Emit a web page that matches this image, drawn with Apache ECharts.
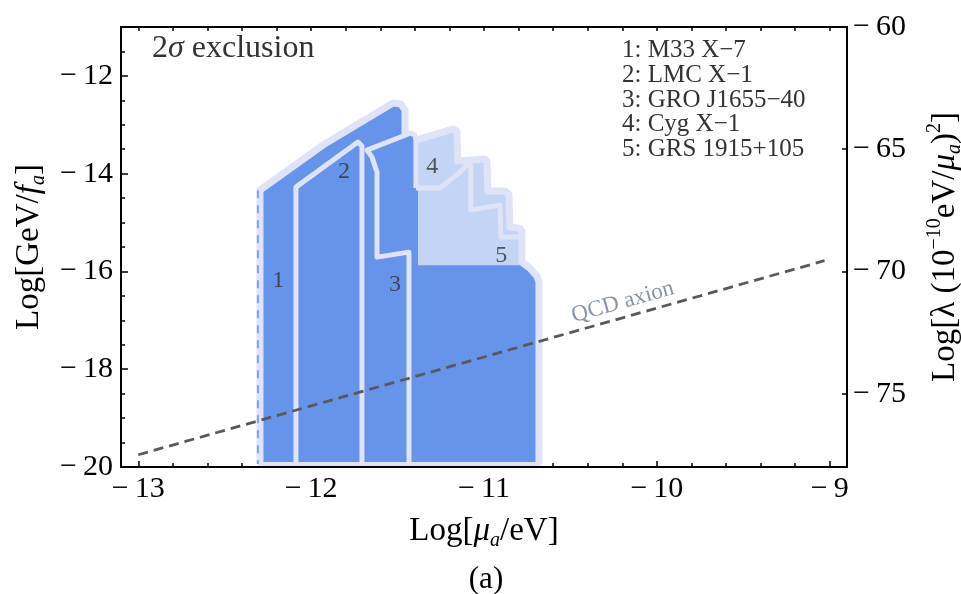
<!DOCTYPE html>
<html>
<head>
<meta charset="utf-8">
<script src="https://cdn.jsdelivr.net/npm/echarts@6/dist/echarts.min.js"></script>
<style>
  html, body { margin: 0; padding: 0; background: #fff; }
  #chart { width: 961px; height: 594px; }
</style>
</head>
<body>
<div id="chart"></div>
<script>
// Black-hole sources and the tag printed inside each excluded region
const sourceTags = ['1', '2', '3', '4', '5'];
const sources = ['M33 X\u22127', 'LMC X\u22121', 'GRO J1655\u221240', 'Cyg X\u22121', 'GRS 1915+105'];
// [log10(mu_a/eV), log10(GeV/f_a)] where each tag sits
const tagPositions = [[-12.19, -16.18], [-11.81, -13.96], [-11.515, -16.28], [-11.30, -13.86], [-10.90, -15.67]];

// Region boundaries, [log10(mu_a/eV), log10(GeV/f_a)]
const m33Edge = [[-12.296, -19.94], [-12.296, -14.336], [-11.932, -13.415], [-11.527, -12.556],
  [-11.481, -12.576], [-11.457, -12.699], [-11.457, -13.21]];
const lmcEdge = [[-12.088, -19.94], [-12.088, -14.275], [-11.729, -13.354], [-11.706, -13.436],
  [-11.706, -19.94]];
const groEdge = [[-11.434, -19.94], [-11.434, -15.605], [-11.619, -15.707], [-11.619, -13.968],
  [-11.648, -13.661], [-11.677, -13.517], [-11.423, -13.169], [-11.400, -13.210],
  [-11.394, -13.313], [-11.394, -14.295]];
const cygEdge = [[-11.394, -13.313], [-11.180, -13.088], [-11.157, -13.129], [-11.151, -13.743],
  [-10.995, -13.702], [-10.983, -13.763], [-10.977, -14.357], [-10.879, -14.357],
  [-10.856, -14.418], [-10.850, -15.093], [-10.792, -15.114], [-10.781, -15.175],
  [-10.781, -15.810], [-10.735, -15.932], [-10.694, -16.096], [-10.682, -16.219], [-10.682, -19.94]];
const grsEdge = [[-11.394, -14.295], [-11.255, -14.295], [-11.139, -13.968], [-11.093, -13.783],
  [-11.076, -13.845], [-11.076, -14.745], [-10.908, -14.643], [-10.902, -15.298], [-10.786, -15.298]];
const baseEdge = [[-12.308, -19.94], [-10.671, -19.94]];
const leftLimit = [[-12.308, -14.34], [-12.308, -19.94]];

// Filled areas
const m33Fill = [[-12.296, -19.94], [-12.296, -14.336], [-11.932, -13.415], [-11.527, -12.556],
  [-11.481, -12.576], [-11.457, -12.699], [-11.457, -19.94]];
const lmcFill = lmcEdge;
const groFill = [[-11.683, -19.94], [-11.683, -13.517], [-11.423, -13.169], [-11.400, -13.210],
  [-11.382, -13.313], [-11.382, -19.94]];
const cygFill = [[-11.394, -19.94]].concat(cygEdge);
const deepFill = [[-11.382, -19.94], [-11.382, -15.871], [-10.781, -15.871], [-10.735, -15.932],
  [-10.694, -16.096], [-10.682, -16.219], [-10.682, -19.94]];

// QCD axion band: f_a * mu_a fixed
const qcdLine = [[-13.0, -19.75], [-9.03, -15.78]];
const qcdLabelAt = [-10.197, -16.628];

// Axis ticks
const xMajorTicks = [-13, -12, -11, -10, -9];
const xMinorTicks = [-12.8, -12.6, -12.4, -12.2, -11.8, -11.6, -11.4, -11.2,
  -10.8, -10.6, -10.4, -10.2, -9.8, -9.6, -9.4, -9.2];
const yMajorTicks = [-20, -18, -16, -14, -12];
const yMinorTicks = [-19.5, -19, -18.5, -17.5, -17, -16.5, -15.5, -15, -14.5,
  -13.5, -13, -12.5, -11.5];
const lambdaTicks = [-75, -70, -65, -60];

const serif = '"Liberation Serif", "Times New Roman", "DejaVu Serif", serif';
const DARK = '#6694EB';
const LIGHT = '#C4D4F5';
const EDGE = '#DEE3F8';

const fmt = v => (v < 0 ? '\u2212\u2009' + Math.abs(v) : String(v));

function fillSeries(points, color, z) {
  return {
    type: 'custom', silent: true, z: z, data: [0],
    renderItem: (params, api) => ({
      type: 'polygon',
      shape: { points: points.map(p => api.coord(p)) },
      style: { fill: color }
    })
  };
}
function edgeSeries(points, width, color, z, dash) {
  return {
    type: 'custom', silent: true, z: z, data: [0],
    renderItem: (params, api) => ({
      type: 'polyline',
      shape: { points: points.map(p => api.coord(p)) },
      style: { stroke: color, lineWidth: width, fill: null, lineJoin: 'round', lineDash: dash || null }
    })
  };
}

const axisLine = { show: true, lineStyle: { color: '#000', width: 2 } };
const tickStyle = { color: '#000', width: 1.5 };
const labelStyle = { fontFamily: serif, fontSize: 30, color: '#000' };
const nameRich = {
  i: { fontFamily: serif, fontSize: 33, fontStyle: 'italic', color: '#000' },
  sub: { fontFamily: serif, fontSize: 20, fontStyle: 'italic', color: '#000', verticalAlign: 'bottom', lineHeight: 22 },
  sup: { fontFamily: serif, fontSize: 20, color: '#000', verticalAlign: 'top', lineHeight: 22 }
};
const nameStyle = { fontFamily: serif, fontSize: 33, color: '#000', lineHeight: 40, rich: nameRich };

const chart = echarts.init(document.getElementById('chart'), null, { renderer: 'canvas' });

chart.setOption({
  animation: false,
  backgroundColor: '#fff',
  grid: { left: 121, right: 114, top: 27, bottom: 127, containLabel: false, outerBoundsMode: 'none' },
  title: [
    {
      text: '{n|2}{s|\u03C3}{n| exclusion}', left: 152, top: 31, padding: 0,
      textStyle: {
        fontWeight: 'normal',
        rich: {
          n: { fontFamily: serif, fontSize: 32, fontWeight: 'normal', color: '#333', lineHeight: 36 },
          s: { fontFamily: serif, fontSize: 32, fontWeight: 'normal', fontStyle: 'italic', color: '#333', lineHeight: 36 }
        }
      }
    },
    {
      text: sources.map((s, i) => sourceTags[i] + ': ' + s).join('\n'),
      left: 622, top: 38, padding: 0,
      textStyle: { fontFamily: serif, fontSize: 25, lineHeight: 24.8, color: '#333', fontWeight: 'normal' }
    },
    {
      text: '(a)', left: 486, top: 563, padding: 0, textAlign: 'center',
      textStyle: { fontFamily: serif, fontSize: 31, lineHeight: 34, color: '#000', fontWeight: 'normal' }
    }
  ],
  xAxis: [
    {
      type: 'value', position: 'bottom', min: -13.1, max: -8.9,
      axisLine: axisLine, splitLine: { show: false },
      axisTick: { inside: true, length: 6, lineStyle: tickStyle, customValues: xMajorTicks },
      axisLabel: Object.assign({ customValues: xMajorTicks, formatter: fmt, margin: 7 }, labelStyle),
      name: 'Log[{i|\u03BC}{sub|a}/eV]', nameLocation: 'middle', nameGap: 44, nameTextStyle: nameStyle
    },
    {
      type: 'value', position: 'bottom', min: -13.1, max: -8.9,
      axisLine: { show: false }, splitLine: { show: false },
      axisTick: { inside: true, length: 4, lineStyle: tickStyle, customValues: xMinorTicks },
      axisLabel: { show: false }
    },
    {
      type: 'value', position: 'top', min: -13.1, max: -8.9,
      axisLine: axisLine, splitLine: { show: false },
      axisTick: { inside: true, length: 4, lineStyle: tickStyle, customValues: xMajorTicks.concat(xMinorTicks) },
      axisLabel: { show: false }
    }
  ],
  yAxis: [
    {
      type: 'value', position: 'left', min: -20, max: -11,
      axisLine: axisLine, splitLine: { show: false },
      axisTick: { inside: true, length: 7, lineStyle: tickStyle, customValues: yMajorTicks },
      axisLabel: Object.assign({ customValues: yMajorTicks, formatter: fmt, margin: 8 }, labelStyle),
      name: 'Log[GeV/{i|f}{sub|a}]', nameLocation: 'middle', nameRotate: 90, nameGap: 71, nameTextStyle: nameStyle
    },
    {
      type: 'value', position: 'left', min: -20, max: -11,
      axisLine: { show: false }, splitLine: { show: false },
      axisTick: { inside: true, length: 4, lineStyle: tickStyle, customValues: yMinorTicks },
      axisLabel: { show: false }
    },
    {
      type: 'value', position: 'right', min: -78, max: -60,
      axisLine: axisLine, splitLine: { show: false },
      axisTick: { inside: true, length: 5, lineStyle: tickStyle, customValues: lambdaTicks },
      axisLabel: Object.assign({ customValues: lambdaTicks, formatter: fmt, margin: 6 }, labelStyle),
      name: 'Log[\u03BB (10{sup|\u221210}eV/{i|\u03BC}{sub|a}){sup|2}]', nameLocation: 'middle',
      nameRotate: 90, nameGap: 78, nameTextStyle: nameStyle
    }
  ],
  series: [
    fillSeries(cygFill, LIGHT, 2),
    fillSeries(m33Fill, DARK, 2),
    fillSeries(lmcFill, DARK, 2),
    fillSeries(groFill, DARK, 2),
    fillSeries(deepFill, DARK, 2),
    edgeSeries(baseEdge, 4, EDGE, 3),
    edgeSeries(m33Edge, 7, EDGE, 3),
    edgeSeries(cygEdge, 7, EDGE, 3),
    edgeSeries(lmcEdge, 5, EDGE, 3),
    edgeSeries(groEdge, 5, EDGE, 3),
    edgeSeries(grsEdge, 5, EDGE, 3),
    edgeSeries(leftLimit, 2, '#7EA1F0', 4, [8, 7]),
    {
      type: 'line', data: qcdLine, z: 5, symbol: 'none', silent: true,
      lineStyle: { color: '#595959', width: 2.8, type: [10, 6] }
    },
    {
      type: 'scatter', data: [qcdLabelAt], symbolSize: 0, z: 6, silent: true,
      label: {
        show: true, position: 'inside', rotate: 15.8, formatter: 'QCD axion',
        fontFamily: serif, fontSize: 23, color: '#6a7893'
      }
    },
    {
      type: 'scatter', data: tagPositions, symbolSize: 0, z: 6, silent: true,
      label: {
        show: true, position: 'inside', formatter: p => sourceTags[p.dataIndex],
        fontFamily: serif, fontSize: 24, color: '#333'
      }
    }
  ]
});
</script>
</body>
</html>
